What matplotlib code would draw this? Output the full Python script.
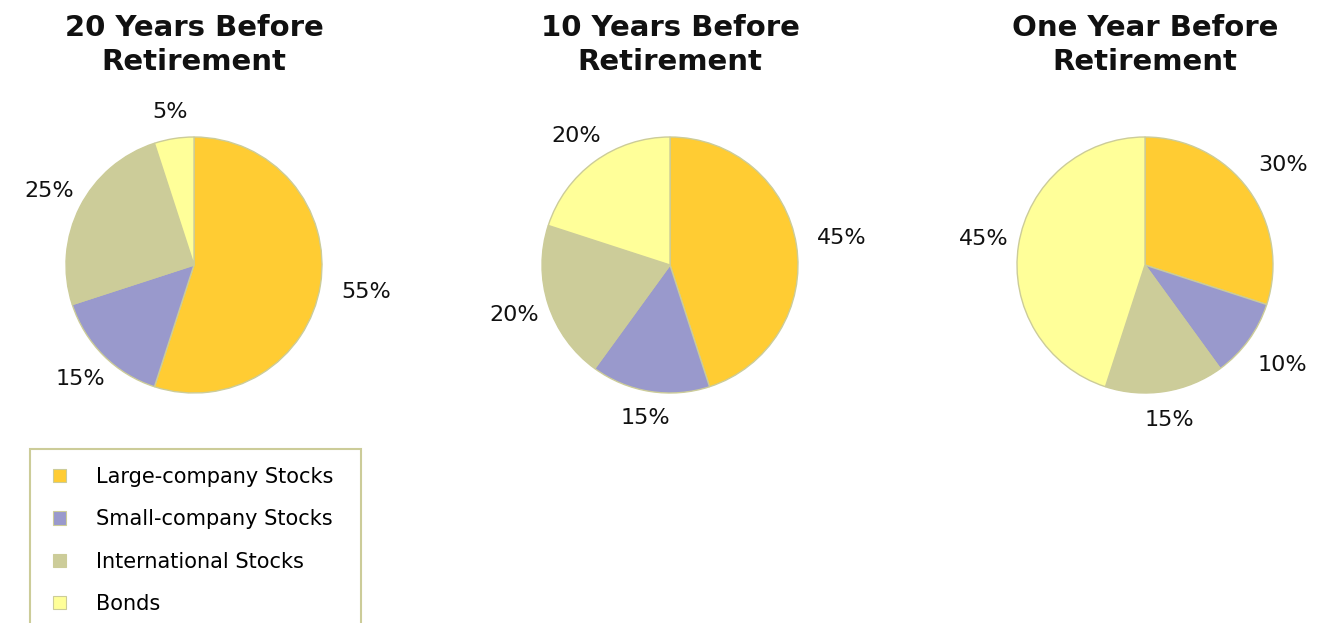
import numpy as np
import matplotlib
matplotlib.use("Agg")
import matplotlib.pyplot as plt
from matplotlib.patches import Patch, Rectangle

categories = ["Large-company Stocks", "Small-company Stocks", "International Stocks", "Bonds"]
titles = ["20 Years Before\nRetirement", "10 Years Before\nRetirement", "One Year Before\nRetirement"]
values_20 = [55, 15, 25, 5]
values_10 = [45, 15, 20, 20]
values_1 = [30, 10, 15, 45]
series = [values_20, values_10, values_1]
colors = ["#FFCC33", "#9999CC", "#CCCC99", "#FFFF99"]
edge = "#CCCC99"

W, H = 1329, 623
fig = plt.figure(figsize=(W / 100, H / 100), dpi=100)
fig.patch.set_facecolor("white")

centers = [(194, 265), (670, 265), (1145, 265)]
R = 128

for (cx, cy), vals, title in zip(centers, series, titles):
    ax = fig.add_axes([(cx - R) / W, 1 - (cy + R) / H, 2 * R / W, 2 * R / H])
    wedges, texts = ax.pie(vals, colors=colors, startangle=90, counterclock=False,
                           labels=[f"{v}%" for v in vals], labeldistance=1.25,
                           wedgeprops=dict(edgecolor=edge, linewidth=1.0),
                           textprops=dict(fontsize=16, color="#111111"))
    for w, t in zip(wedges, texts):
        ang = np.deg2rad((w.theta1 + w.theta2) / 2)
        c = np.cos(ang)
        d = 1.2 + (0.16 if c > 0 else 0.08) * abs(c)
        t.set_position((d * np.cos(ang), d * np.sin(ang)))
        t.set_ha("center")
        t.set_va("center")
    ax.set_xlim(-1, 1)
    ax.set_ylim(-1, 1)
    ax.set_aspect("equal")
    ax.axis("off")
    fig.text(cx / W, 1 - 45 / H, title, ha="center", va="center", fontsize=21,
             fontweight="bold", linespacing=1.31, color="#111111")

# legend frame
fig.patches.append(Rectangle((30 / W, 1 - 660 / H), 331 / W, 211 / H,
                             transform=fig.transFigure, facecolor="none",
                             edgecolor=edge, linewidth=1.5, clip_on=False))
handles = [Patch(facecolor=c, edgecolor=edge, linewidth=0.8) for c in colors]
fig.legend(handles, categories, loc="upper left", bbox_to_anchor=(53 / W, 1 - 467 / H),
           frameon=False, fontsize=15, labelspacing=1.07, handlelength=0.6,
           handleheight=0.6, handletextpad=1.45, borderpad=0, borderaxespad=0)

fig.savefig("out.png", dpi=100, facecolor="white")
